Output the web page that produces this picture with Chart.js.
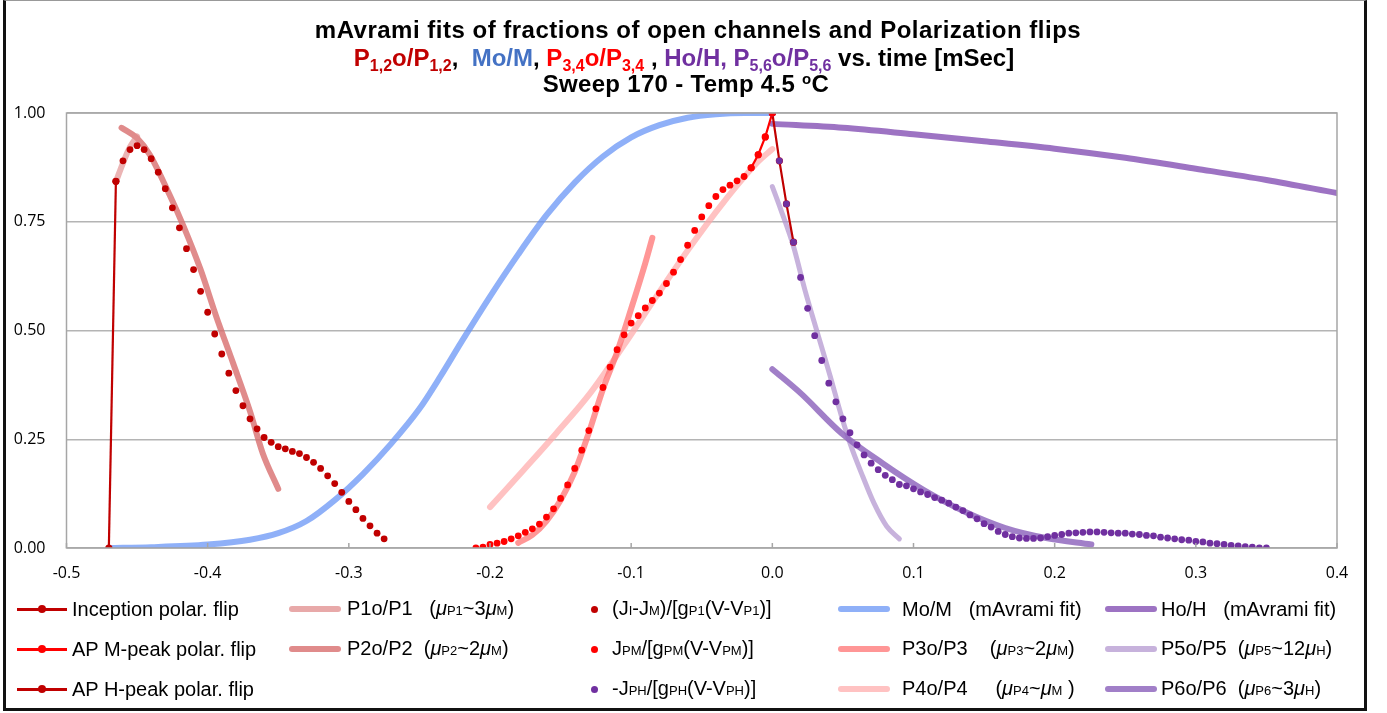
<!DOCTYPE html>
<html>
<head>
<meta charset="utf-8">
<script src="https://cdn.jsdelivr.net/npm/chart.js@4.4.0/dist/chart.umd.min.js"></script>
<style>
body { margin: 0; background: #fff; }
#wrap { position: relative; width: 1387px; height: 713px; overflow: hidden; font-family: "Liberation Sans", Arial, sans-serif; }
#frame { position: absolute; left: 3px; top: 0; width: 1358px; height: 707px; border-left: 3px solid #111; border-right: 3px solid #111; border-bottom: 3px solid #111; border-top: 1px solid #999; }
#chart { position: absolute; left: 0; top: 0; }
.tl { position: absolute; white-space: nowrap; font-weight: bold; font-size: 24px; line-height: 28px; transform: translateX(-50%); }
.tl sub { font-size: 16px; vertical-align: -5px; line-height: 0; }
.tl sup { font-size: 15px; vertical-align: 8px; line-height: 0; }
.dr { color: #c00000; } .bl { color: #4472c4; } .rd { color: #ff0000; } .pu { color: #7030a0; }
.lg { position: absolute; height: 24px; line-height: 24px; display: flex; align-items: center; white-space: nowrap; font-size: 20px; color: #000; }
.lg small { font-size: 13px; }
.lg i { font-style: italic; }
</style>
</head>
<body>
<div id="wrap">
  <canvas id="chart" width="1387" height="713"></canvas>
  <div id="frame"></div>
  <div class="tl" style="left:698px;top:16px;letter-spacing:0.5px">mAvrami fits of fractions of open channels and Polarization flips</div>
  <div class="tl" style="left:684px;top:44px"><span class="dr">P<sub>1,2</sub>o/P<sub>1,2</sub></span>,&nbsp; <span class="bl">Mo/M</span>, <span class="rd">P<sub>3,4</sub>o/P<sub>3,4</sub></span> , <span class="pu">Ho/H, P<sub>5,6</sub>o/P<sub>5,6</sub></span> vs. time [mSec]</div>
  <div class="tl" style="left:686px;top:70px;letter-spacing:0.3px">Sweep 170 - Temp 4.5 <sup>o</sup>C</div>
  <div id="legend"></div>
</div>
<script>
// ===========================
// Dados (tempo em mSec, fração)
// ===========================
const tInception = [-0.470, -0.465];
const yInception = [0.000, 0.843];

const tMPeak = [-0.015, -0.010, -0.005, 0.000];
const yMPeak = [0.874, 0.904, 0.945, 1.000];

const tHPeak = [0.000, 0.005, 0.010, 0.015];
const yHPeak = [1.000, 0.890, 0.791, 0.703];

const tP1 = [-0.465, -0.460, -0.455, -0.450];
const yP1 = [0.842, 0.885, 0.922, 0.946];

const tP2 = [-0.461, -0.450, -0.441, -0.427, -0.417, -0.405, -0.394, -0.382, -0.370, -0.361, -0.350];
const yP2 = [0.966, 0.942, 0.904, 0.812, 0.739, 0.640, 0.533, 0.425, 0.314, 0.218, 0.136];

const tJI = [-0.465, -0.460, -0.455, -0.450, -0.445, -0.440, -0.435, -0.430, -0.425, -0.420,
             -0.415, -0.410, -0.405, -0.400, -0.395, -0.390, -0.385, -0.380, -0.375, -0.370,
             -0.365, -0.360, -0.355, -0.350, -0.345, -0.340, -0.335, -0.330, -0.325, -0.320,
             -0.315, -0.310, -0.305, -0.300, -0.295, -0.290, -0.285, -0.280, -0.275];
const yJI = [0.843, 0.890, 0.916, 0.925, 0.916, 0.895, 0.864, 0.826, 0.782, 0.736,
             0.688, 0.640, 0.590, 0.542, 0.492, 0.446, 0.402, 0.362, 0.327, 0.297,
             0.274, 0.254, 0.243, 0.233, 0.228, 0.222, 0.217, 0.208, 0.197, 0.183,
             0.166, 0.148, 0.128, 0.107, 0.088, 0.068, 0.051, 0.034, 0.021];

const tMo = [-0.470, -0.440, -0.400, -0.370, -0.350, -0.330, -0.310, -0.290, -0.270, -0.250, -0.235, -0.220,
             -0.200, -0.180, -0.160, -0.140, -0.120, -0.100, -0.080, -0.060, -0.040, -0.020, 0.000];
const yMo = [0.000, 0.002, 0.008, 0.019, 0.034, 0.062, 0.110, 0.170, 0.240, 0.320, 0.395, 0.475,
             0.578, 0.675, 0.765, 0.840, 0.900, 0.944, 0.972, 0.989, 0.997, 1.000, 1.000];

const tPM = [-0.210, -0.205, -0.200, -0.195, -0.190, -0.185, -0.180, -0.175, -0.170, -0.165,
             -0.160, -0.155, -0.150, -0.145, -0.140, -0.135, -0.130, -0.125, -0.120, -0.115,
             -0.110, -0.105, -0.100, -0.095, -0.090, -0.085, -0.080, -0.075, -0.070, -0.065,
             -0.060, -0.055, -0.050, -0.045, -0.040, -0.035, -0.030, -0.025, -0.020, -0.015,
             -0.010, -0.005, 0.000];
const yPM = [0.000, 0.002, 0.008, 0.011, 0.015, 0.021, 0.028, 0.036, 0.044, 0.055,
             0.071, 0.090, 0.114, 0.145, 0.183, 0.225, 0.270, 0.320, 0.369, 0.416,
             0.456, 0.490, 0.517, 0.534, 0.552, 0.569, 0.586, 0.608, 0.634, 0.663,
             0.696, 0.730, 0.761, 0.787, 0.808, 0.824, 0.834, 0.844, 0.854, 0.874,
             0.904, 0.945, 1.000];

const tP3 = [-0.180, -0.170, -0.160, -0.150, -0.140, -0.130, -0.120, -0.110, -0.100, -0.090, -0.085];
const yP3 = [0.012, 0.030, 0.062, 0.110, 0.175, 0.265, 0.365, 0.450, 0.550, 0.655, 0.713];

const tP4 = [-0.200, -0.176, -0.153, -0.129, -0.105, -0.082, -0.058, -0.035, -0.011, 0.000];
const yP4 = [0.094, 0.180, 0.264, 0.356, 0.467, 0.579, 0.693, 0.793, 0.885, 0.917];

const tPH = [0.000, 0.005, 0.010, 0.015, 0.020, 0.025, 0.030, 0.035, 0.040, 0.045,
             0.050, 0.055, 0.060, 0.065, 0.070, 0.075, 0.080, 0.085, 0.090, 0.095,
             0.100, 0.105, 0.110, 0.115, 0.120, 0.125, 0.130, 0.135, 0.140, 0.145,
             0.150, 0.155, 0.160, 0.165, 0.170, 0.175, 0.180, 0.185, 0.190, 0.195,
             0.200, 0.205, 0.210, 0.215, 0.220, 0.225, 0.230, 0.235, 0.240, 0.245,
             0.250, 0.255, 0.260, 0.265, 0.270, 0.275, 0.280, 0.285, 0.290, 0.295,
             0.300, 0.305, 0.310, 0.315, 0.320, 0.325, 0.330, 0.335, 0.340, 0.345,
             0.350];
const yPH = [1.000, 0.890, 0.791, 0.703, 0.622, 0.551, 0.488, 0.431, 0.379, 0.336,
             0.297, 0.265, 0.237, 0.214, 0.195, 0.180, 0.167, 0.157, 0.146, 0.143,
             0.136, 0.129, 0.123, 0.116, 0.110, 0.103, 0.094, 0.086, 0.076, 0.067,
             0.056, 0.048, 0.038, 0.031, 0.026, 0.023, 0.022, 0.022, 0.023, 0.026,
             0.029, 0.031, 0.034, 0.035, 0.036, 0.037, 0.037, 0.036, 0.035, 0.034,
             0.034, 0.032, 0.031, 0.029, 0.028, 0.025, 0.023, 0.021, 0.019, 0.018,
             0.015, 0.014, 0.011, 0.010, 0.008, 0.006, 0.005, 0.003, 0.002, 0.000,
             0.000];

const tHo = [0.000, 0.050, 0.100, 0.150, 0.200, 0.250, 0.300, 0.350, 0.400];
const yHo = [0.975, 0.966, 0.951, 0.935, 0.918, 0.897, 0.872, 0.846, 0.816];

const tP5 = [0.000, 0.006, 0.015, 0.023, 0.032, 0.041, 0.049, 0.055, 0.064, 0.072, 0.081, 0.090];
const yP5 = [0.831, 0.778, 0.693, 0.594, 0.494, 0.395, 0.303, 0.241, 0.165, 0.103, 0.050, 0.021];

const tP6 = [0.000, 0.020, 0.049, 0.078, 0.107, 0.136, 0.165, 0.194, 0.226];
const yP6 = [0.411, 0.356, 0.264, 0.195, 0.134, 0.084, 0.046, 0.023, 0.008];

const xTicks = [-0.5, -0.4, -0.3, -0.2, -0.1, 0.0, 0.1, 0.2, 0.3, 0.4];
const yTicks = [0.00, 0.25, 0.50, 0.75, 1.00];

// ===========================
// Helpers
// ===========================
function pts(t, y) {
    return t.map((v, i) => ({ x: v, y: y[i] }));
}

function curva(t, y, cor, larg, ordem) {
    return {
        data: pts(t, y), showLine: true, borderColor: cor, borderWidth: larg,
        pointRadius: 0, cubicInterpolationMode: 'monotone', borderCapStyle: 'round',
        fill: false, order: ordem
    };
}

function pontos(t, y, cor, ordem) {
    return {
        data: pts(t, y), showLine: false, backgroundColor: cor, borderColor: cor,
        pointRadius: 3.4, pointBorderWidth: 0, order: ordem
    };
}

function flip(t, y, cor, ordem) {
    return {
        data: pts(t, y), showLine: true, borderColor: cor, backgroundColor: cor,
        borderWidth: 2.2, pointRadius: 3.6, pointBorderWidth: 0, tension: 0, order: ordem
    };
}

// moldura cinza do gráfico + marcas do eixo x para dentro
const moldura = {
    id: 'moldura',
    afterDatasetsDraw(chart) {
        const { ctx, chartArea: a, scales } = chart;
        ctx.save();
        ctx.strokeStyle = '#a6a6a6';
        ctx.lineWidth = 1.5;
        ctx.strokeRect(a.left, a.top, a.right - a.left, a.bottom - a.top);
        ctx.beginPath();
        xTicks.forEach(v => {
            const px = scales.x.getPixelForValue(v);
            ctx.moveTo(px, a.bottom);
            ctx.lineTo(px, a.bottom - 5);
        });
        ctx.stroke();
        ctx.restore();
    }
};

// ===========================
// Gráfico
// ===========================
const ctx = document.getElementById('chart').getContext('2d');

new Chart(ctx, {
    type: 'scatter',
    data: {
        datasets: [
            flip(tInception, yInception, '#c00000', 3),
            flip(tMPeak, yMPeak, '#ff0000', 3),
            flip(tHPeak, yHPeak, '#c00000', 3),
            curva(tP1, yP1, 'rgba(224,140,140,0.65)', 6, 6),
            curva(tP2, yP2, 'rgba(216,110,110,0.8)', 6, 6),
            pontos(tJI, yJI, '#c00000', 1),
            pontos(tPM, yPM, '#ff0000', 1),
            pontos(tPH, yPH, '#7030a0', 1),
            curva(tMo, yMo, 'rgba(100,145,245,0.72)', 6, 5),
            curva(tP3, yP3, 'rgba(255,110,110,0.72)', 6, 6),
            curva(tP4, yP4, 'rgba(255,170,170,0.72)', 6, 7),
            curva(tHo, yHo, 'rgba(140,90,185,0.85)', 6, 6),
            curva(tP5, yP5, 'rgba(175,145,205,0.7)', 5, 7),
            curva(tP6, yP6, 'rgba(145,105,190,0.85)', 6, 6)
        ]
    },
    options: {
        responsive: false,
        animation: false,
        layout: { padding: { left: 6, top: 113, right: 50, bottom: 135 } },
        plugins: { legend: { display: false }, tooltip: { enabled: false } },
        scales: {
            x: {
                type: 'linear', min: -0.5, max: 0.4,
                afterBuildTicks: s => { s.ticks = xTicks.map(v => ({ value: v })); },
                afterFit: s => { s.height = 30; },
                ticks: {
                    color: '#000', padding: 8,
                    font: { family: 'Open Sans', size: 16 },
                    callback: v => v.toFixed(1)
                },
                grid: { display: false },
                border: { display: false }
            },
            y: {
                type: 'linear', min: 0, max: 1,
                afterBuildTicks: s => { s.ticks = yTicks.map(v => ({ value: v })); },
                afterFit: s => { s.width = 60.5; },
                ticks: {
                    color: '#000', padding: 21,
                    font: { family: 'Open Sans', size: 16 },
                    callback: v => v.toFixed(2)
                },
                grid: { color: '#b4b4b4', lineWidth: 1.5, drawTicks: false },
                border: { display: false }
            }
        }
    },
    plugins: [moldura]
});

// ===========================
// Legenda (HTML)
// ===========================
const legendItems = [
    { x: 17, row: 0, tipo: 'flip', cor: '#c00000', txt: 'Inception polar. flip' },
    { x: 17, row: 1, tipo: 'flip', cor: '#ff0000', txt: 'AP M-peak polar. flip' },
    { x: 17, row: 2, tipo: 'flip', cor: '#c00000', txt: 'AP H-peak polar. flip' },
    { x: 289, row: 0, tipo: 'faixa', cor: 'rgba(224,140,140,0.75)', txt: 'P1o/P1 &nbsp; (<i>&mu;</i><small>P1</small>~3<i>&mu;</i><small>M</small>)' },
    { x: 289, row: 1, tipo: 'faixa', cor: 'rgba(216,110,110,0.8)', txt: 'P2o/P2 &nbsp;(<i>&mu;</i><small>P2</small>~2<i>&mu;</i><small>M</small>)' },
    { x: 590, row: 0, tipo: 'ponto', cor: '#c00000', txt: '(J<small>I</small>-J<small>M</small>)/[g<small>P1</small>(V-V<small>P1</small>)]' },
    { x: 590, row: 1, tipo: 'ponto', cor: '#ff0000', txt: 'J<small>PM</small>/[g<small>PM</small>(V-V<small>PM</small>)]' },
    { x: 590, row: 2, tipo: 'ponto', cor: '#7030a0', txt: '-J<small>PH</small>/[g<small>PH</small>(V-V<small>PH</small>)]' },
    { x: 838, row: 0, tipo: 'faixa', cor: 'rgba(100,145,245,0.72)', txt: 'Mo/M &nbsp; (mAvrami fit)', gap: 12 },
    { x: 838, row: 1, tipo: 'faixa', cor: 'rgba(255,110,110,0.72)', txt: 'P3o/P3 &nbsp; &nbsp;(<i>&mu;</i><small>P3</small>~2<i>&mu;</i><small>M</small>)', gap: 12 },
    { x: 838, row: 2, tipo: 'faixa', cor: 'rgba(255,170,170,0.72)', txt: 'P4o/P4 &nbsp; &nbsp; (<i>&mu;</i><small>P4</small>~<i>&mu;</i><small>M</small> )', gap: 12 },
    { x: 1105, row: 0, tipo: 'faixa', cor: 'rgba(140,90,185,0.85)', txt: 'Ho/H &nbsp; (mAvrami fit)', gap: 4 },
    { x: 1105, row: 1, tipo: 'faixa', cor: 'rgba(175,145,205,0.7)', txt: 'P5o/P5 &nbsp;(<i>&mu;</i><small>P5</small>~12<i>&mu;</i><small>H</small>)', gap: 4 },
    { x: 1105, row: 2, tipo: 'faixa', cor: 'rgba(145,105,190,0.85)', txt: 'P6o/P6 &nbsp;(<i>&mu;</i><small>P6</small>~3<i>&mu;</i><small>H</small>)', gap: 4 }
];
const rowY = [609, 649, 689];

const legendEl = document.getElementById('legend');
legendItems.forEach(it => {
    const d = document.createElement('div');
    d.className = 'lg';
    d.style.left = it.x + 'px';
    d.style.top = (rowY[it.row] - 12) + 'px';
    let sw = '';
    if (it.tipo === 'flip') {
        sw = `<span style="position:relative;display:inline-block;width:50px;height:10px;margin-right:5px">
                <span style="position:absolute;left:0;top:4px;width:50px;height:2.5px;background:${it.cor}"></span>
                <span style="position:absolute;left:21px;top:1px;width:8px;height:8px;border-radius:50%;background:${it.cor}"></span>
              </span>`;
    } else if (it.tipo === 'faixa') {
        const gap = it.gap !== undefined ? it.gap : 6;
        sw = `<span style="display:inline-block;width:52px;height:6px;border-radius:3px;background:${it.cor};margin-right:${gap}px"></span>`;
    } else {
        sw = `<span style="display:inline-block;width:7px;height:7px;border-radius:50%;background:${it.cor};margin:0 14px 0 1px"></span>`;
    }
    d.innerHTML = sw + '<span>' + it.txt + '</span>';
    legendEl.appendChild(d);
});
</script>
</body>
</html>
